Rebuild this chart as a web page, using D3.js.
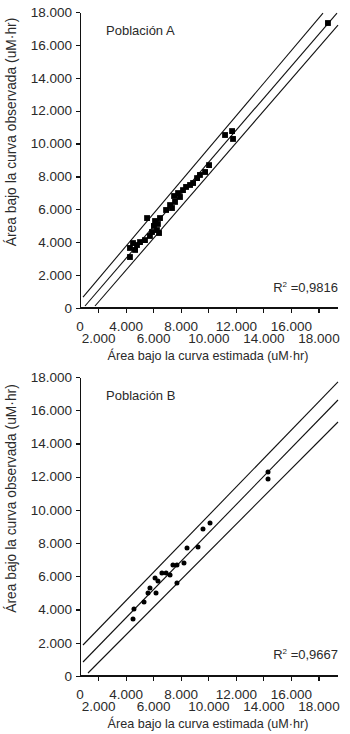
<!DOCTYPE html>
<html>
<head>
<meta charset="utf-8">
<script src="https://cdn.jsdelivr.net/npm/d3@7"></script>
<style>
    body{ margin:0; background:#fff; }
    svg{ display:block; font-family:"Liberation Sans", Arial, sans-serif; }
    .axis line, .axis path{ stroke:#111; stroke-width:1.2px; shape-rendering:crispEdges; }
    .tick-lbl{ font-size:13.5px; fill:#2a2a2a; }
    .ytitle{ font-size:13.8px; fill:#2a2a2a; }
    .xtitle{ font-size:12.6px; fill:#2a2a2a; }
    .panel-lbl{ font-size:13px; fill:#2a2a2a; }
    .r2{ font-size:13px; fill:#2a2a2a; }
    .band{ stroke:#111; stroke-width:1.1px; fill:none; }
    .pt{ fill:#000; }
</style>
</head>
<body>
<script>
// ticks
const xTicks = [2000, 4000, 6000, 8000, 10000, 12000, 14000, 16000, 18000]
const yTicks = [0, 2000, 4000, 6000, 8000, 10000, 12000, 14000, 16000, 18000]

// Población A (estimada, observada)
const estA = [4280, 4280, 4500, 4790, 4650, 5010, 5370, 5520, 5730, 5880, 6020, 6100, 6240, 6310, 6460, 6390,
              6900, 7190, 7330, 7480, 7550, 7770, 7910, 8130, 8350, 8640, 8860, 9150, 9360, 9730, 10020,
              11180, 11690, 11760, 18650]
const obsA = [3100, 3650, 3950, 3830, 3530, 4010, 4130, 5470, 4380, 4620, 4990, 5290, 4740, 5110, 5470, 4560,
              5960, 6260, 6080, 6810, 6450, 6990, 6750, 7170, 7360, 7480, 7600, 7900, 8090, 8270, 8690,
              10520, 10760, 10280, 17330]
// líneas: superior, regresión, inferior  [[x0,y0],[x1,y1]]
const bandA = [[[870, 667], [18290, 17930]],
               [[1016, 121], [19306, 17936]],
               [[1742, 121], [19380, 17206]]]
const r2A = 0.9816

// Población B
const estB = [4500, 4570, 5300, 5590, 5730, 6170, 6100, 6310, 6600, 6900, 7190, 7400, 7690, 7690, 8200,
              8420, 9220, 9580, 10090, 14300, 14300]
const obsB = [3430, 4030, 4450, 5000, 5300, 5000, 5900, 5720, 6200, 6200, 6080, 6680, 5600, 6680, 6800,
              7710, 7770, 8850, 9210, 12280, 11860]
const bandB = [[[871, 1866], [19379, 17700]],
               [[871, 843], [19379, 16615]],
               [[1234, 181], [19379, 15291]]]
const r2B = 0.9667

const panels = [
    {name:"Población A", est:estA, obs:obsA, band:bandA, r2:r2A, yBottom:308, yTop:12, shape:"square"},
    {name:"Población B", est:estB, obs:obsB, band:bandB, r2:r2B, yBottom:676, yTop:377, shape:"circle"}
]

const w = 350, h = 734
const es = d3.formatLocale({decimal:",", thousands:".", grouping:[3], currency:["", "€"]})
const fmt = es.format(",")
const fmt4 = es.format(".4f")

const svg = d3.select("body").append("svg").attr("width", w).attr("height", h)

const xScale = d3.scaleLinear().domain([0, 18000]).range([71, 319])
const axisX0 = 80, axisX1 = 338

panels.forEach(p => {
    const yScale = d3.scaleLinear().domain([0, 18000]).range([p.yBottom, p.yTop])
    const g = svg.append("g")

    // y axis
    const yAxis = d3.axisLeft(yScale).tickValues(yTicks).tickSize(4).tickPadding(4)
                    .tickSizeOuter(0).tickFormat(fmt)
    const ya = g.append("g").attr("class", "axis")
                .attr("transform", "translate(" + axisX0 + ",0)")
                .call(yAxis)
    ya.selectAll("text").attr("class", "tick-lbl").attr("font-size", null).attr("font-family", null)

    // x axis
    const xa = g.append("g").attr("class", "axis")
    xa.append("line").attr("x1", axisX0).attr("x2", axisX1)
        .attr("y1", p.yBottom).attr("y2", p.yBottom)
    xa.selectAll(".xt").data(xTicks).enter().append("line")
        .attr("x1", d => xScale(d)).attr("x2", d => xScale(d))
        .attr("y1", p.yBottom).attr("y2", p.yBottom + 5)
    xa.selectAll(".xl").data(xTicks).enter().append("text")
        .attr("class", "tick-lbl")
        .attr("text-anchor", "middle")
        .attr("x", d => xScale(d))
        .attr("y", d => (d / 2000) % 2 === 1 ? p.yBottom + 35 : p.yBottom + 23)
        .text(fmt)
    xa.append("text").attr("class", "tick-lbl").attr("text-anchor", "middle")
        .attr("x", axisX0).attr("y", p.yBottom + 23).text(fmt(0))

    // titles
    const yc = (p.yTop + p.yBottom) / 2 - 28
    g.append("text").attr("class", "ytitle").attr("text-anchor", "middle")
        .attr("transform", "translate(16," + yc + ") rotate(-90)")
        .text("Área bajo la curva observada (uM·hr)")
    g.append("text").attr("class", "xtitle").attr("text-anchor", "middle")
        .attr("x", 208).attr("y", p.yBottom + 52)
        .text("Área bajo la curva estimada (uM·hr)")
    g.append("text").attr("class", "panel-lbl")
        .attr("x", 106).attr("y", p.yTop + 23).text(p.name)

    const r2 = g.append("text").attr("class", "r2").attr("text-anchor", "end")
        .attr("x", axisX1).attr("y", yScale(1000))
    r2.append("tspan").text("R")
    r2.append("tspan").attr("font-size", 8).attr("dy", -5).text("2")
    r2.append("tspan").attr("dy", 5).text(" =" + fmt4(p.r2))

    // bands
    const line = d3.line().x(d => xScale(d[0])).y(d => yScale(d[1]))
    g.selectAll(".band").data(p.band).enter().append("path")
        .attr("class", "band").attr("d", line)

    // points
    const pts = p.est.map((e, i) => [e, p.obs[i]])
    if (p.shape === "square") {
        g.selectAll(".pt").data(pts).enter().append("path")
            .attr("class", "pt")
            .attr("d", d3.symbol(d3.symbolSquare, 34))
            .attr("transform", d => "translate(" + xScale(d[0]) + "," + yScale(d[1]) + ")")
    } else {
        g.selectAll(".pt").data(pts).enter().append("circle")
            .attr("class", "pt")
            .attr("cx", d => xScale(d[0])).attr("cy", d => yScale(d[1]))
            .attr("r", 2.5)
    }
})
</script>
</body>
</html>
